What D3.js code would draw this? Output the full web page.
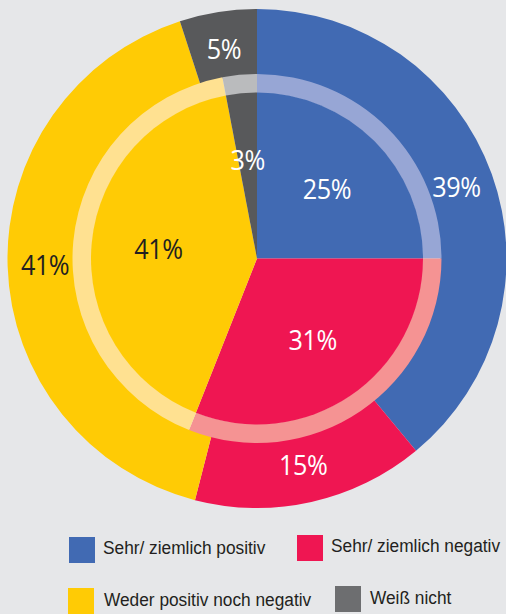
<!DOCTYPE html>
<html>
<head>
<meta charset="utf-8">
<script src="https://cdn.jsdelivr.net/npm/d3@7"></script>
<style>
  html, body { margin: 0; padding: 0; background: #e6e7e9; }
  svg { display: block; }
</style>
</head>
<body>
<div id="chart"></div>
<script>
// Categories and values (percent)
const categories = ["Sehr/ ziemlich positiv", "Sehr/ ziemlich negativ", "Weder positiv noch negativ", "Weiß nicht"];
const outerValues = [39, 15, 41, 5];
const innerValues = [25, 31, 41, 3];

const colors = ["#416ab3", "#ef1652", "#ffcb05", "#58595b"];
const lightColors = ["#97a6d5", "#f59393", "#ffe191", "#babbbd"];
const legendColors = ["#416ab3", "#ef1652", "#ffcb05", "#6d6e70"];
const labelColors = ["#ffffff", "#ffffff", "#231f20", "#ffffff"];

const width = 506, height = 614;
const cx = 257, cy = 258.5;
const rOuter = 249.5, rRing = 184.5, rInner = 166;

const svg = d3.select("#chart").append("svg")
    .attr("width", width).attr("height", height);

const pie = d3.pie().sort(null).value(d => d);
const outerArcs = pie(outerValues);
const innerArcs = pie(innerValues);

const g = svg.append("g").attr("transform", `translate(${cx},${cy})`);

// Outer ring
const outerArc = d3.arc().innerRadius(rRing - 1).outerRadius(rOuter);
g.append("g").selectAll("path").data(outerArcs).enter().append("path")
    .attr("d", outerArc)
    .attr("fill", (d, i) => colors[i]);

// Light band around the inner pie
const bandArc = d3.arc().innerRadius(rInner - 0.5).outerRadius(rRing);
g.append("g").selectAll("path").data(innerArcs).enter().append("path")
    .attr("d", bandArc)
    .attr("fill", (d, i) => lightColors[i]);

// Inner pie
const innerArc = d3.arc().innerRadius(0).outerRadius(rInner);
g.append("g").selectAll("path").data(innerArcs).enter().append("path")
    .attr("d", innerArc)
    .attr("fill", (d, i) => colors[i]);

// Labels at the slice centroids
const outerLabelArc = d3.arc().innerRadius(212).outerRadius(212);
const innerLabelArc = d3.arc().innerRadius(99).outerRadius(99);

const labelFont = "'Open Sans', 'Noto Sans', sans-serif";

function addLabels(arcs, arc) {
    g.append("g").selectAll("text").data(arcs).enter().append("text")
        .attr("transform", d => `translate(${arc.centroid(d)}) scale(0.9,1)`)
        .attr("text-anchor", "middle")
        .attr("dy", "0.36em")
        .attr("font-family", labelFont)
        .attr("font-size", 28)
        .attr("letter-spacing", -0.5)
        .attr("fill", (d, i) => labelColors[i])
        .text(d => d.data + "%");
}
addLabels(outerArcs, outerLabelArc);
addLabels(innerArcs, innerLabelArc);

// Legend
const legendItems = [
    { x: 69, y: 537, tx: 103, ty: 554 },
    { x: 297, y: 535, tx: 331, ty: 552 },
    { x: 68, y: 588, tx: 104, ty: 606 },
    { x: 335, y: 586, tx: 370, ty: 604 }
];

const legend = svg.append("g");
legend.selectAll("rect").data(categories).enter().append("rect")
    .attr("x", (d, i) => legendItems[i].x)
    .attr("y", (d, i) => legendItems[i].y)
    .attr("width", 26).attr("height", 26)
    .attr("fill", (d, i) => legendColors[i]);

// narrow-looking legend font: squeeze Liberation Sans horizontally
legend.selectAll("text").data(categories).enter().append("text")
    .attr("transform", (d, i) => `translate(${legendItems[i].tx},${legendItems[i].ty}) scale(0.91,1)`)
    .attr("font-family", "'Liberation Sans', Arial, sans-serif")
    .attr("font-size", 19)
    .attr("fill", "#231f20")
    .text(d => d);
</script>
</body>
</html>
